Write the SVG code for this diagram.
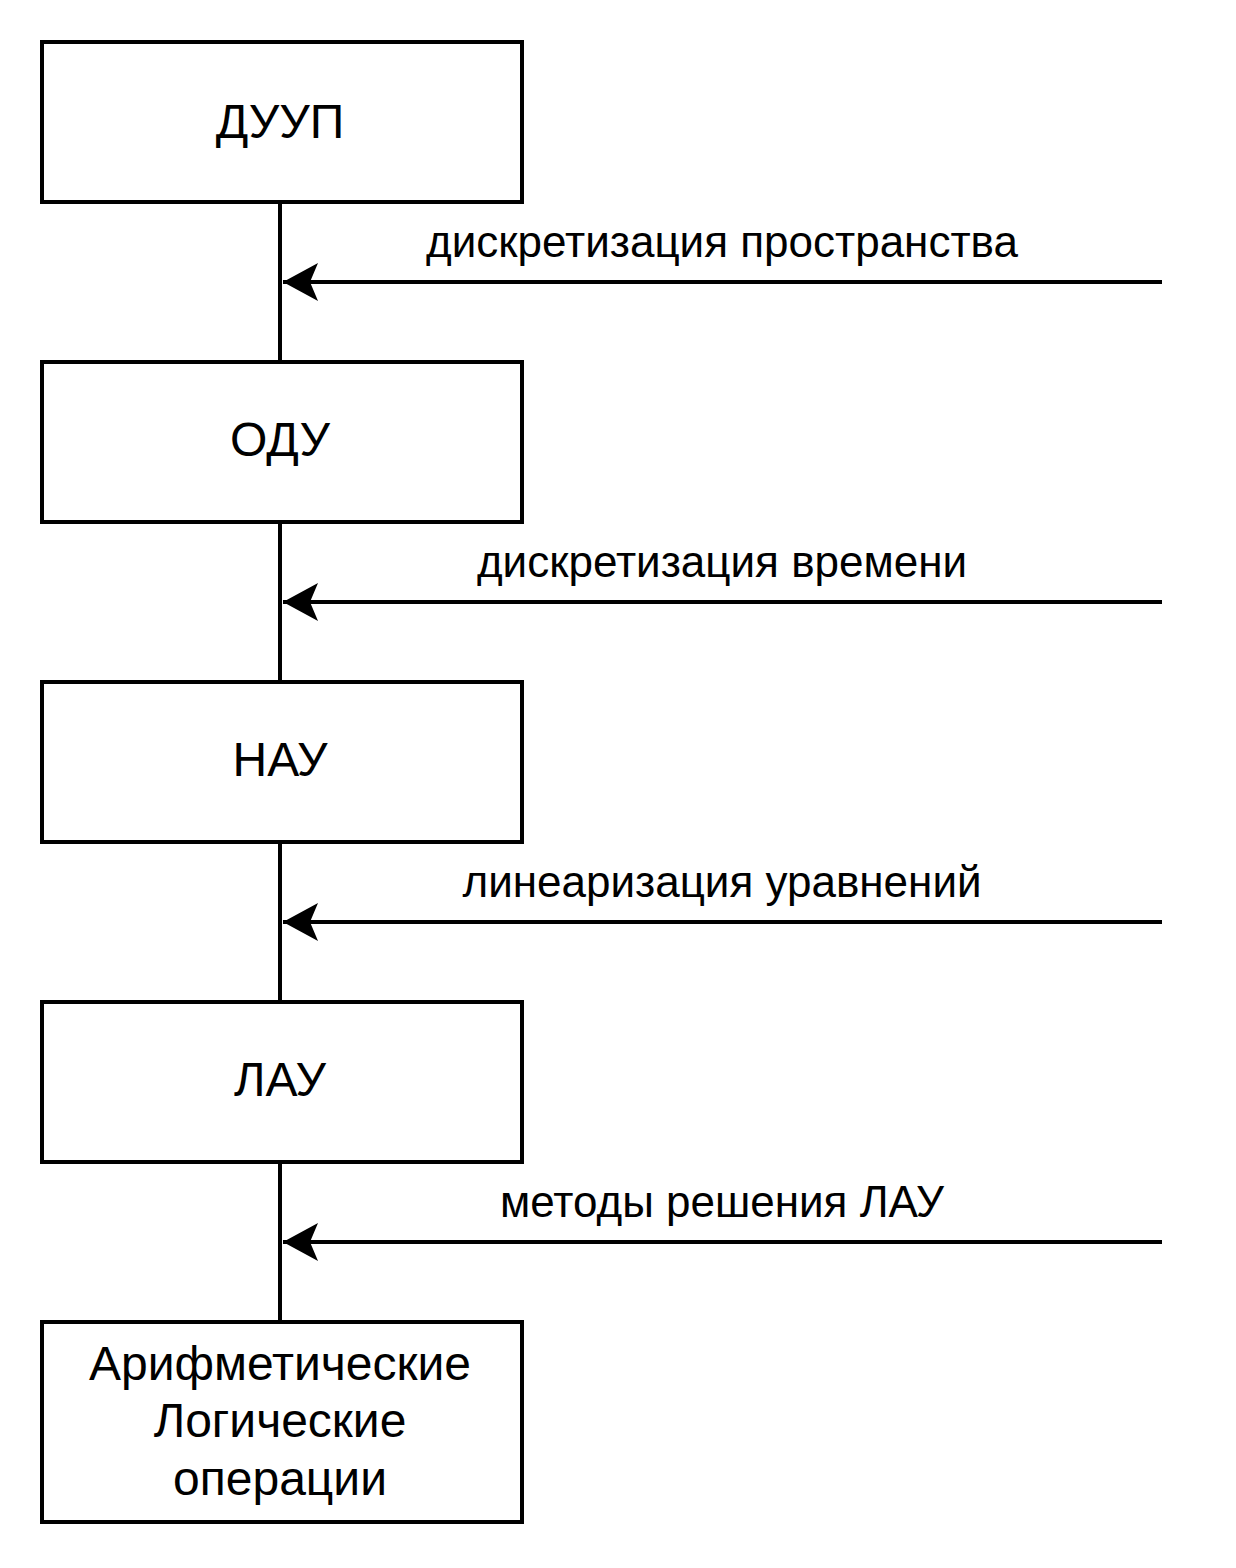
<svg xmlns="http://www.w3.org/2000/svg" width="1236" height="1568" viewBox="0 0 1236 1568">
<style>
.box{fill:#fff;stroke:#000;stroke-width:4}
.bt{font-family:"Liberation Sans",Arial,sans-serif;font-size:48px;text-anchor:middle;fill:#000}
.lt{font-family:"Liberation Sans",Arial,sans-serif;font-size:44px;text-anchor:middle;fill:#000}
.ln{stroke:#000;stroke-width:4;fill:none}
</style>
<defs>
<marker id="ah" markerUnits="userSpaceOnUse" markerWidth="40" markerHeight="42" refX="37" refY="21" orient="auto" overflow="visible">
<path d="M2,2 L37,21 L2,40 L10,21 Z" fill="#000"/>
</marker>
</defs>
<rect width="1236" height="1568" fill="#fff"/>
<g id="connectors">
<line class="ln" x1="280" y1="202" x2="280" y2="362"/>
<line class="ln" x1="280" y1="522" x2="280" y2="682"/>
<line class="ln" x1="280" y1="842" x2="280" y2="1002"/>
<line class="ln" x1="280" y1="1162" x2="280" y2="1322"/>
<line class="ln" x1="1162" y1="282" x2="283" y2="282" marker-end="url(#ah)"/>
<line class="ln" x1="1162" y1="602" x2="283" y2="602" marker-end="url(#ah)"/>
<line class="ln" x1="1162" y1="922" x2="283" y2="922" marker-end="url(#ah)"/>
<line class="ln" x1="1162" y1="1242" x2="283" y2="1242" marker-end="url(#ah)"/>
<text class="lt" x="722" y="257">дискретизация пространства</text>
<text class="lt" x="722" y="577">дискретизация времени</text>
<text class="lt" x="722" y="897">линеаризация уравнений</text>
<text class="lt" x="722" y="1217">методы решения ЛАУ</text>
</g>
<g id="duup"><rect class="box" x="42" y="42" width="480" height="160"/><text class="bt" x="280" y="138">ДУУП</text></g>
<g id="odu"><rect class="box" x="42" y="362" width="480" height="160"/><text class="bt" x="280" y="456">ОДУ</text></g>
<g id="nau"><rect class="box" x="42" y="682" width="480" height="160"/><text class="bt" x="280" y="776">НАУ</text></g>
<g id="lau"><rect class="box" x="42" y="1002" width="480" height="160"/><text class="bt" x="280" y="1096">ЛАУ</text></g>
<g id="ops"><rect class="box" x="42" y="1322" width="480" height="200"/>
<text class="bt" x="280" y="1380">Арифметические</text>
<text class="bt" x="280" y="1437">Логические</text>
<text class="bt" x="280" y="1495">операции</text></g>
</svg>
